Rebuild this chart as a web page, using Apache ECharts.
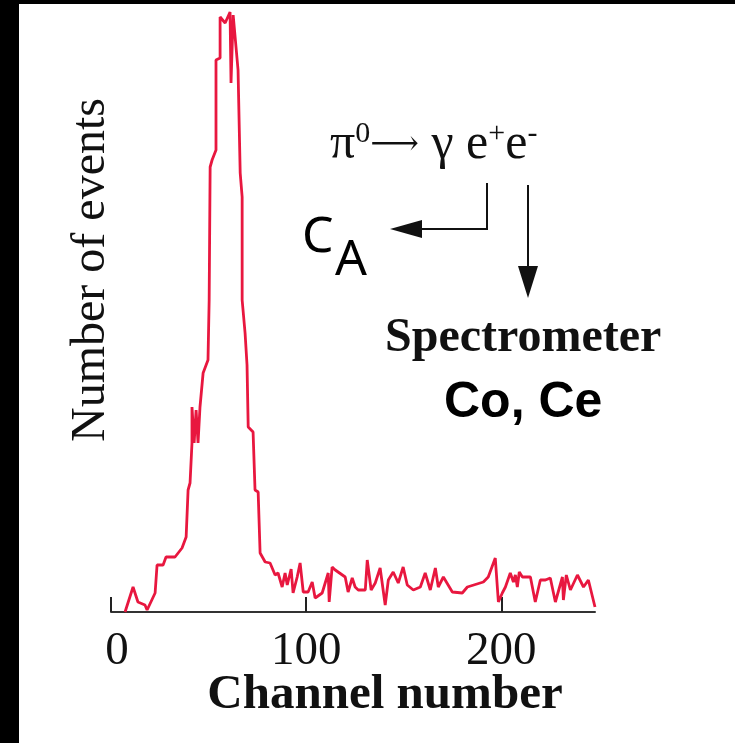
<!DOCTYPE html>
<html>
<head>
<meta charset="utf-8">
<script src="https://cdn.jsdelivr.net/npm/echarts@6/dist/echarts.min.js"></script>
<style>
  html, body { margin: 0; padding: 0; background: #fff; }
  #chart { width: 735px; height: 743px; }
</style>
</head>
<body>
<div id="chart"></div>
<script>
// channel number (x) and number of events (y, arbitrary units)
const channels = [7.2, 11.3, 13.8, 17.4, 18.5, 22.6, 23.6, 26.7, 28.2, 32.8,
  36.4, 38.5, 39.5, 40.5, 41.5, 41.5, 42.6, 43.6, 44.6, 45.6,
  47.2, 49.7, 50.3, 50.8, 51.8, 53.8, 53.8, 55.9, 55.9, 58.5,
  61.0, 61.5, 62.6, 65.1, 66.2, 67.2, 67.2, 68.7, 69.7, 70.3,
  72.8, 73.8, 75.4, 76.4, 79.0, 81.5, 84.1, 85.6, 87.7, 89.2,
  90.3, 92.3, 93.3, 95.4, 96.9, 98.5, 101.0, 103.1, 104.6, 108.2,
  111.3, 111.8, 113.3, 114.9, 120.0, 121.5, 123.6, 125.1, 126.7, 130.3,
  131.3, 133.3, 135.4, 137.9, 140.5, 142.1, 144.6, 147.2, 149.7, 151.8,
  154.9, 158.5, 161.0, 163.6, 166.2, 167.7, 170.3, 174.9, 180.0, 182.6,
  190.8, 193.3, 196.9, 198.5, 200.5, 202.1, 204.6, 206.2, 207.2, 208.2,
  209.2, 210.8, 214.9, 217.4, 220.0, 222.6, 225.1, 227.7, 231.3, 231.8,
  233.3, 235.4, 239.0, 242.1, 244.6, 248.0];
const events = [0, 25, 10, 7, 2, 19, 47, 47, 55, 55,
  64, 75, 122, 129, 169, 205, 169, 202, 169, 205,
  239, 252, 312, 445, 452, 462, 552, 554, 595, 589,
  600, 529, 597, 542, 439, 415, 312, 279, 247, 185,
  180, 122, 120, 59, 50, 49, 37, 39, 25, 39,
  27, 43, 19, 35, 49, 20, 20, 30, 14, 19,
  39, 10, 45, 42, 35, 20, 34, 25, 22, 22,
  52, 22, 29, 44, 7, 32, 40, 29, 45, 27,
  22, 25, 39, 22, 44, 25, 35, 20, 19, 25,
  30, 35, 54, 10, 19, 25, 39, 30, 37, 25,
  40, 35, 35, 10, 32, 32, 34, 10, 35, 12,
  37, 22, 37, 25, 32, 5];
const xTicks = [0, 100, 200];

const serif = "'Liberation Serif', 'Times New Roman', serif";
const sans = "'Noto Sans', 'Open Sans', sans-serif";
const boldSans = "'Liberation Sans', Arial, sans-serif";

let chart = echarts.init(document.getElementById('chart'));
chart.setOption({
  backgroundColor: '#fff',
  animation: false,
  grid: { left: 111, right: 140, top: 2, bottom: 131 },
  xAxis: {
    type: 'value',
    min: 0,
    max: 248,
    name: 'Channel number',
    nameLocation: 'middle',
    nameGap: 59,
    nameMoveOverlap: false,
    nameTextStyle: { fontFamily: serif, fontWeight: 'bold', fontSize: 49, color: '#111', padding: [0, 0, 0, 64] },
    axisLine: { lineStyle: { color: '#333', width: 2 } },
    axisTick: { inside: true, length: 15, customValues: xTicks, lineStyle: { color: '#222', width: 2 } },
    axisLabel: {
      customValues: xTicks, margin: 16, fontFamily: serif, fontSize: 47, color: '#111',
      formatter: v => v === 0 ? ' 0' : String(v)
    },
    splitLine: { show: false }
  },
  yAxis: {
    type: 'value',
    min: 0,
    max: 610,
    name: 'Number of events',
    nameLocation: 'middle',
    nameGap: -4,
    nameMoveOverlap: false,
    nameTextStyle: { fontFamily: serif, fontSize: 48, color: '#111', padding: [0, 0, 0, 74] },
    axisLine: { show: false },
    axisTick: { show: false },
    axisLabel: { show: false },
    splitLine: { show: false }
  },
  series: [{
    type: 'line',
    data: channels.map((c, i) => [c, events[i]]),
    showSymbol: false,
    lineStyle: { color: '#e8173f', width: 2.8 }
  }],
  graphic: [
    // scan edges
    { type: 'rect', shape: { x: 0, y: 0, width: 19, height: 743 }, style: { fill: '#000' } },
    { type: 'rect', shape: { x: 0, y: 0, width: 735, height: 4 }, style: { fill: '#000' } },
    // decay annotation
    {
      type: 'text', x: 330, y: 145,
      style: {
        text: '{a|π}{s|0}{r|⟶}{a| γ e}{s|+}{a|e}{s|-}',
        textVerticalAlign: 'middle',
        rich: {
          a: { fontFamily: serif, fontSize: 50, lineHeight: 52, fill: '#111' },
          r: { fontFamily: "'DejaVu Serif', serif", fontSize: 34, lineHeight: 52, fill: '#111' },
          s: { fontFamily: serif, fontSize: 30, lineHeight: 30, verticalAlign: 'top', fill: '#111' }
        }
      }
    },
    { type: 'polyline', shape: { points: [[487, 183], [487, 229], [418, 229]] }, style: { stroke: '#111', lineWidth: 2, fill: null } },
    { type: 'polygon', shape: { points: [[390, 229], [422, 220], [422, 238]] }, style: { fill: '#111' } },
    { type: 'line', shape: { x1: 528, y1: 185, x2: 528, y2: 270 }, style: { stroke: '#111', lineWidth: 2 } },
    { type: 'polygon', shape: { points: [[528, 298], [518, 266], [538, 266]] }, style: { fill: '#111' } },
    { type: 'text', x: 302, y: 238, style: { text: 'C', font: '50px ' + sans, fill: '#000', textVerticalAlign: 'middle' } },
    { type: 'text', x: 335, y: 261, style: { text: 'A', font: '50px ' + sans, fill: '#000', textVerticalAlign: 'middle' } },
    { type: 'text', x: 385, y: 339, style: { text: 'Spectrometer', font: 'bold 48px ' + serif, fill: '#111', textVerticalAlign: 'middle' } },
    { type: 'text', x: 444, y: 403, style: { text: 'Co, Ce', font: 'bold 50px ' + boldSans, fill: '#000', textVerticalAlign: 'middle' } }
  ]
});
</script>
</body>
</html>
